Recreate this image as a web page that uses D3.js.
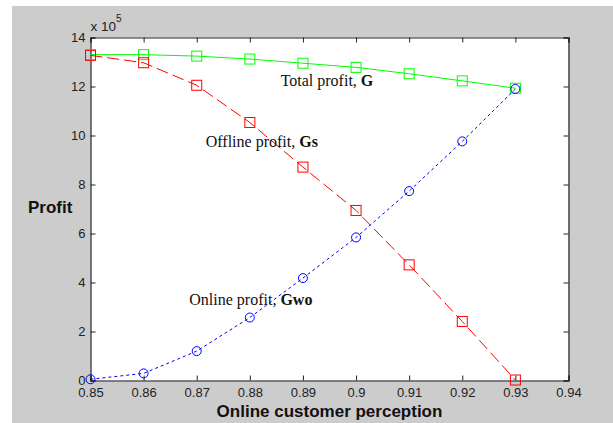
<!DOCTYPE html>
<meta charset="utf-8">
<head>
<style>
body { margin: 0; background: #fff; }
svg { display: block; }
.tick text { font: 13px "Liberation Sans", Arial, sans-serif; fill: #222; }
.axislabel { font: bold 17px "Liberation Sans", Arial, sans-serif; fill: #111; }
.note { font: 16px "Liberation Serif", "Times New Roman", serif; fill: #111; }
</style>
<script src="https://d3js.org/d3.v7.min.js"></script>
</head>
<body>
<svg width="613" height="423"></svg>
<script>

// values in units of 10^5
var perception = [0.85, 0.86, 0.87, 0.88, 0.89, 0.90, 0.91, 0.92, 0.93];
var totalG     = [13.3, 13.3, 13.24, 13.12, 12.95, 12.78, 12.52, 12.23, 11.93];
var offlineGs  = [13.27, 12.97, 12.05, 10.53, 8.71, 6.94, 4.72, 2.41, 0.02];
var onlineGwo  = [0.05, 0.29, 1.2, 2.57, 4.18, 5.84, 7.73, 9.76, 11.9];

var xTicks = [0.85, 0.86, 0.87, 0.88, 0.89, 0.9, 0.91, 0.92, 0.93, 0.94];
var yTicks = [0, 2, 4, 6, 8, 10, 12, 14];

var svg = d3.select("svg");

// figure background
svg.append("rect")
    .attr("x", 12).attr("y", 6)
    .attr("width", 601).attr("height", 417)
    .attr("fill", "#cccccc");

var plotLeft = 90.5, plotRight = 568.5, plotTop = 37.5, plotBottom = 380.5;

var x = d3.scaleLinear().domain([0.85, 0.94]).range([plotLeft, plotRight]);
var y = d3.scaleLinear().domain([0, 14]).range([plotBottom, plotTop]);

svg.append("rect")
    .attr("x", plotLeft).attr("y", plotTop)
    .attr("width", plotRight - plotLeft).attr("height", plotBottom - plotTop)
    .attr("fill", "#fff");

var fmtX = function(d) { return d3.format(".2f")(d).replace(/0$/, ""); };

svg.append("g")
    .attr("transform", "translate(0," + plotBottom + ")")
    .call(d3.axisBottom(x).tickValues(xTicks).tickSize(-5).tickPadding(7).tickFormat(fmtX));
svg.append("g")
    .attr("transform", "translate(" + plotLeft + ",0)")
    .call(d3.axisLeft(y).tickValues(yTicks).tickSize(-5).tickPadding(5));
svg.append("g")
    .attr("transform", "translate(0," + plotTop + ")")
    .call(d3.axisTop(x).tickValues(xTicks).tickSize(-5).tickFormat(""));
svg.append("g")
    .attr("transform", "translate(" + plotRight + ",0)")
    .call(d3.axisRight(y).tickValues(yTicks).tickSize(-5).tickFormat(""));

svg.selectAll(".domain").attr("stroke", "#222").attr("stroke-width", 1.2);
svg.selectAll(".tick line").attr("stroke", "#222");

// exponent label
var expo = svg.append("text")
    .attr("x", plotLeft)
    .attr("y", 31)
    .style("font-family", "Liberation Sans, Arial, sans-serif")
    .style("font-size", "13.5px")
    .style("fill", "#222");
expo.append("tspan").text("x 10");
expo.append("tspan").attr("dy", -9).style("font-size", "10px").text("5");

svg.append("text")
    .attr("class", "axislabel")
    .attr("x", (plotLeft + plotRight) / 2)
    .attr("y", 417)
    .attr("text-anchor", "middle")
    .text("Online customer perception");

svg.append("text")
    .attr("class", "axislabel")
    .attr("x", 28)
    .attr("y", 213)
    .text("Profit");

var series = [
  { values: totalG, color: "#00ff00", dash: null, marker: "square" },
  { values: offlineGs, color: "#ff0000", dash: "12,5", marker: "square" },
  { values: onlineGwo, color: "#0000ff", dash: "3,3", marker: "circle" }
];

var line = d3.line()
    .x(function(d) { return x(d[0]); })
    .y(function(d) { return y(d[1]); });

series.forEach(function(s) {
  var pts = perception.map(function(p, i) { return [p, s.values[i]]; });
  svg.append("path")
      .datum(pts)
      .attr("d", line)
      .attr("fill", "none")
      .attr("stroke", s.color)
      .attr("stroke-width", 1)
      .attr("stroke-dasharray", s.dash);

  if (s.marker == "square") {
    svg.selectAll(null)
      .data(pts)
      .enter().append("rect")
        .attr("x", function(d) { return x(d[0]) - 5; })
        .attr("y", function(d) { return y(d[1]) - 5; })
        .attr("width", 10).attr("height", 10)
        .attr("fill", "none")
        .attr("stroke", s.color)
        .attr("stroke-width", 1);
  } else {
    svg.selectAll(null)
      .data(pts)
      .enter().append("circle")
        .attr("cx", function(d) { return x(d[0]); })
        .attr("cy", function(d) { return y(d[1]); })
        .attr("r", 4.5)
        .attr("fill", "none")
        .attr("stroke", s.color)
        .attr("stroke-width", 1);
  }
});

// annotations placed in data coordinates
var notes = [
  { px: 0.8858, py: 12.04, plain: "Total profit, ", bold: "G" },
  { px: 0.8717, py: 9.55, plain: "Offline profit, ", bold: "Gs" },
  { px: 0.8686, py: 3.1, plain: "Online profit, ", bold: "Gwo" }
];

notes.forEach(function(n) {
  var t = svg.append("text")
      .attr("class", "note")
      .attr("x", x(n.px))
      .attr("y", y(n.py));
  t.append("tspan").text(n.plain);
  t.append("tspan").style("font-weight", "bold").text(n.bold);
});

</script>
</body>
